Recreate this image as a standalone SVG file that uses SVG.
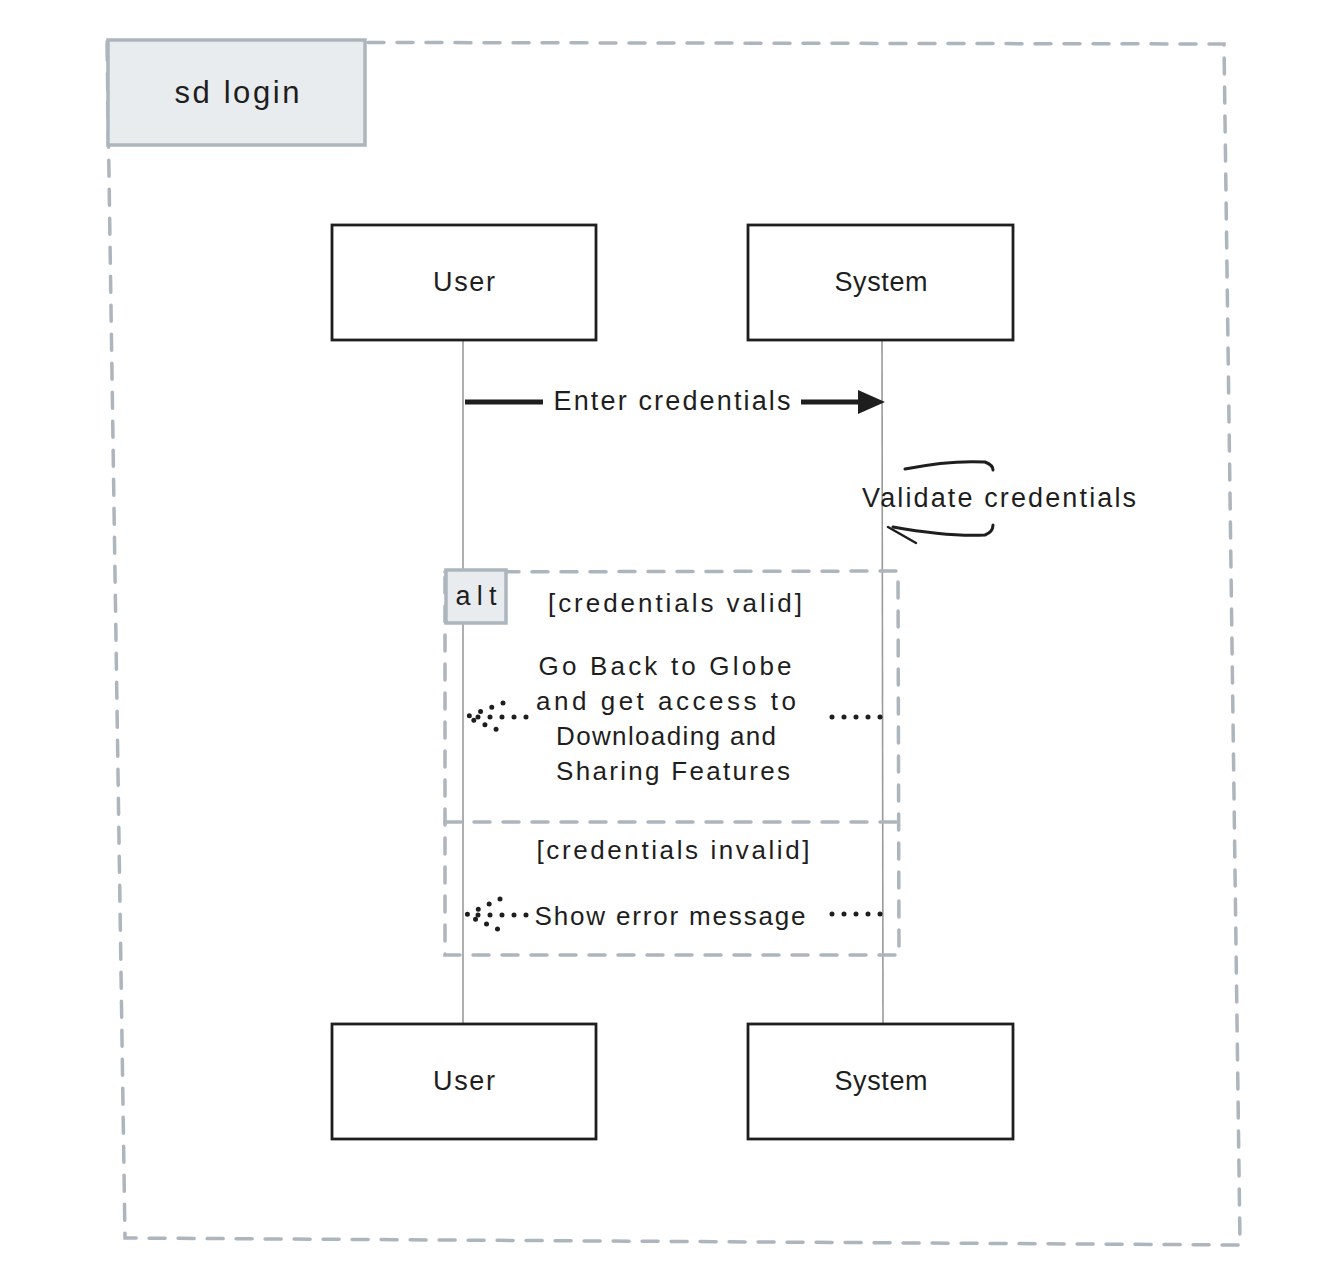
<svg xmlns="http://www.w3.org/2000/svg" width="1344" height="1281" viewBox="0 0 1344 1281">
<style>
.frame{fill:none;stroke:#adb5bd;stroke-width:3.5;stroke-dasharray:16 13;stroke-linecap:round}
.tag{fill:#e9ecef;stroke:#adb5bd;stroke-width:3.5}
.actor{fill:#fff;stroke:#1e1e1e;stroke-width:2.8}
.life{stroke:#9a9a9a;stroke-width:1.6;fill:none}
.t{font-family:"Liberation Sans",Arial,sans-serif;fill:#1e1e1e;text-anchor:middle;dominant-baseline:central;lengthAdjust:spacing}
.dot{fill:none;stroke:#1e1e1e;stroke-width:5;stroke-linecap:round;stroke-dasharray:0 12}
</style>
<g id="frame-sd">
<path class="frame" d="M107,42 L1224,44 L1240,1245 L125,1238 Z"/>
<rect class="tag" x="108" y="40" width="257" height="105"/>
<text class="t" x="237" y="92" font-size="31" textLength="125" lengthAdjust="spacing">sd login</text>
</g>
<g id="connectors">
<line class="life" x1="463" y1="340" x2="463" y2="1024"/>
<line class="life" x1="882" y1="340" x2="883" y2="1024"/>
<line x1="465" y1="402" x2="543" y2="402" stroke="#1e1e1e" stroke-width="5"/>
<line x1="801" y1="402" x2="862" y2="402" stroke="#1e1e1e" stroke-width="5"/>
<path d="M858,390 L885,402 L858,414 Z" fill="#1e1e1e"/>
<text class="t" x="672" y="401" font-size="27" textLength="237" lengthAdjust="spacing">Enter credentials</text>
<path d="M905,469 Q950,460 985,462 Q993,465 993,470" fill="none" stroke="#1e1e1e" stroke-width="3" stroke-linecap="round"/>
<path d="M893,527 Q950,537 985,535 Q993,532 993,525" fill="none" stroke="#1e1e1e" stroke-width="3" stroke-linecap="round"/>
<path d="M888,527 L916,543" fill="none" stroke="#1e1e1e" stroke-width="2.5" stroke-linecap="round"/>
<text class="t" x="999" y="498" font-size="27" textLength="274" lengthAdjust="spacing">Validate credentials</text>
<path class="dot" d="M880,717 L828,717"/>
<path class="dot" d="M526,717 L466,717"/>
<path class="dot" d="M503,703 L466,717 L503,732"/>
<path class="dot" d="M880,914 L826,914"/>
<path class="dot" d="M526,915 L466,915"/>
<path class="dot" d="M500,899 L466,915 L500,930"/>
</g>
<g id="alt-frame">
<path class="frame" d="M445,572 L898,571 L899,955 L445,955 Z"/>
<line class="frame" x1="445" y1="822" x2="900" y2="822"/>
<rect class="tag" x="446" y="570" width="60" height="53"/>
<text class="t" x="476" y="596" font-size="27" textLength="41" lengthAdjust="spacing">alt</text>
<text class="t" x="675" y="603" font-size="26" textLength="254" lengthAdjust="spacing">[credentials valid]</text>
<text class="t" x="665" y="666" font-size="26" textLength="253" lengthAdjust="spacing">Go Back to Globe</text>
<text class="t" x="666" y="701" font-size="26" textLength="260" lengthAdjust="spacing">and get access to</text>
<text class="t" x="666" y="736" font-size="26" textLength="220" lengthAdjust="spacing">Downloading and</text>
<text class="t" x="673" y="771" font-size="26" textLength="234" lengthAdjust="spacing">Sharing Features</text>
<text class="t" x="673" y="850" font-size="26" textLength="273" lengthAdjust="spacing">[credentials invalid]</text>
<text class="t" x="670" y="916" font-size="26" textLength="271" lengthAdjust="spacing">Show error message</text>
</g>
<g id="user-top">
<rect class="actor" x="332" y="225" width="264" height="115"/>
<text class="t" x="464" y="282" font-size="27" textLength="62" lengthAdjust="spacing">User</text>
</g>
<g id="system-top">
<rect class="actor" x="748" y="225" width="265" height="115"/>
<text class="t" x="881" y="282" font-size="27" textLength="93" lengthAdjust="spacing">System</text>
</g>
<g id="user-bottom">
<rect class="actor" x="332" y="1024" width="264" height="115"/>
<text class="t" x="464" y="1081" font-size="27" textLength="62" lengthAdjust="spacing">User</text>
</g>
<g id="system-bottom">
<rect class="actor" x="748" y="1024" width="265" height="115"/>
<text class="t" x="881" y="1081" font-size="27" textLength="93" lengthAdjust="spacing">System</text>
</g>
</svg>
